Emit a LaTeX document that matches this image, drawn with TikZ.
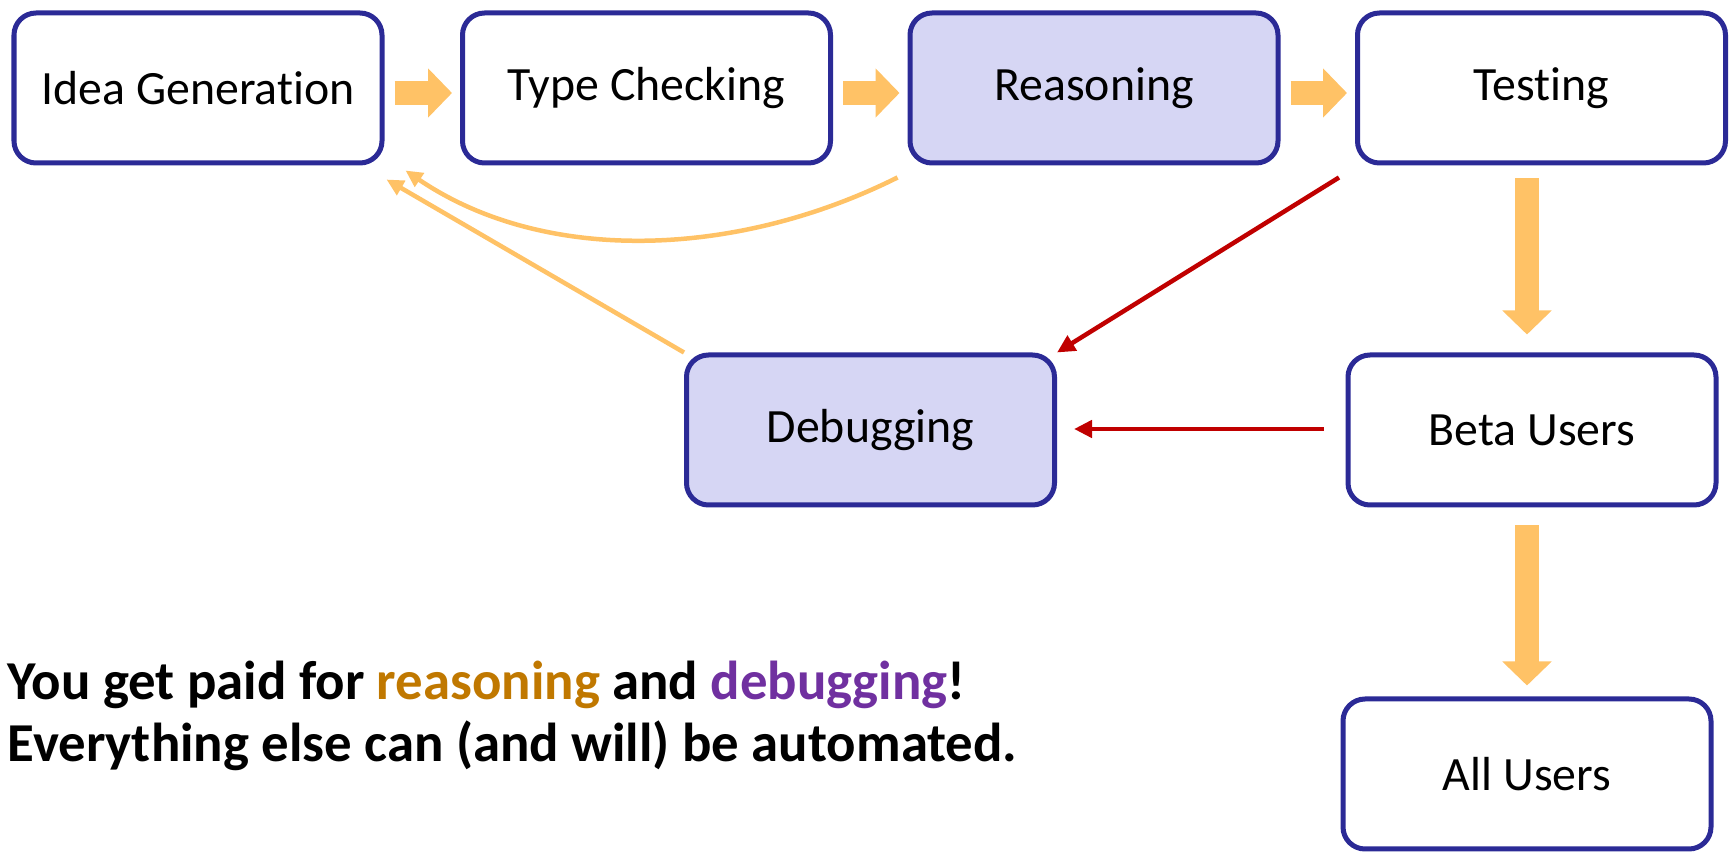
\documentclass[tikz,border=0pt]{standalone}
\usepackage{fontspec}
\setmainfont{Carlito}[Ligatures=NoCommon]
\usetikzlibrary{positioning}
\usetikzlibrary{arrows.meta}
\usetikzlibrary{calc}

\definecolor{boxline}{HTML}{2B2A96}
\definecolor{boxfill}{HTML}{D6D6F4}
\definecolor{flow}{HTML}{FFC266}
\definecolor{back}{HTML}{C00000}
\definecolor{wordorange}{HTML}{C07800}
\definecolor{wordpurple}{HTML}{7030A0}

\tikzset{
	stage/.style={draw=boxline, line width=0.05cm, rounded corners=0.22cm, minimum width=3.68cm, minimum height=1.50cm, inner sep=0pt, font=\fontsize{13.6}{16}\selectfont},
	paidstage/.style={stage, fill=boxfill},
	bigflow/.style={draw=flow, line width=0.24cm, -{Triangle[width=0.48cm,length=0.24cm]}},
	thinflow/.style={draw=flow, line width=0.045cm, -{Triangle[width=0.16cm,length=0.17cm]}},
	fixflow/.style={draw=back, line width=0.045cm, -{Triangle[width=0.17cm,length=0.18cm]}},
	note/.style={anchor=base west, inner sep=0pt, font=\bfseries\fontsize{15.6}{19}\selectfont},
}

\begin{document}
\begin{tikzpicture}
		\useasboundingbox (0,0) rectangle (17.34,-8.52);
		% top row
		\node (idea)    [stage]     at (1.98,-0.88)   {Idea Generation};
		\node (type)    [stage]     at (6.465,-0.88)  {Type Checking};
		\node (reason)  [paidstage] at (10.94,-0.88)  {Reasoning};
		\node (testing) [stage]     at (15.415,-0.88) {Testing};
		% lower stages
		\node (debug)    [paidstage] at (8.705,-4.30) {Debugging};
		\node (beta)     [stage]     at (15.32,-4.30) {Beta Users};
		\node (allusers) [stage]     at (15.27,-7.74) {All Users};
		% text
		\node (paid) [note] at (0.07,-7.00) {You get paid for \textcolor{wordorange}{reasoning} and \textcolor{wordpurple}{debugging}!};
		\node (auto) [note] at (0.07,-7.62) {Everything else can (and will) be automated.};
		% main flow
		\draw [bigflow] ([xshift=0.1cm,yshift=-0.05cm]idea.east) -- ([xshift=-0.08cm,yshift=-0.05cm]type.west);
		\draw [bigflow] ([xshift=0.1cm,yshift=-0.05cm]type.east) -- ([xshift=-0.08cm,yshift=-0.05cm]reason.west);
		\draw [bigflow] ([xshift=0.1cm,yshift=-0.05cm]reason.east) -- ([xshift=-0.08cm,yshift=-0.05cm]testing.west);
		\draw [bigflow] ($(testing.south -| allusers)+(0,-0.13)$) -- ($(beta.north -| allusers)+(0,0.18)$);
		\draw [bigflow] ($(beta.south -| allusers)+(0,-0.18)$) -- ($(allusers.north)+(0,0.11)$);
		% going back
		\draw [fixflow] ($(testing.south west)+(-0.16,-0.12)$) -- (debug.north east);
		\draw [fixflow] ($(beta.west)+(-0.22,0.01)$) -- ($(debug.east)+(0.17,0.01)$);
		\draw [thinflow] (debug.north west) -- ($(idea.south east)+(0.02,-0.14)$);
		\draw [thinflow] ($(reason.south west)+(-0.1,-0.12)$) .. controls +(-1.6,-0.8) and +(1.4,-0.95) .. ($(idea.south east)+(0.21,-0.05)$);
	\end{tikzpicture}
\end{document}
